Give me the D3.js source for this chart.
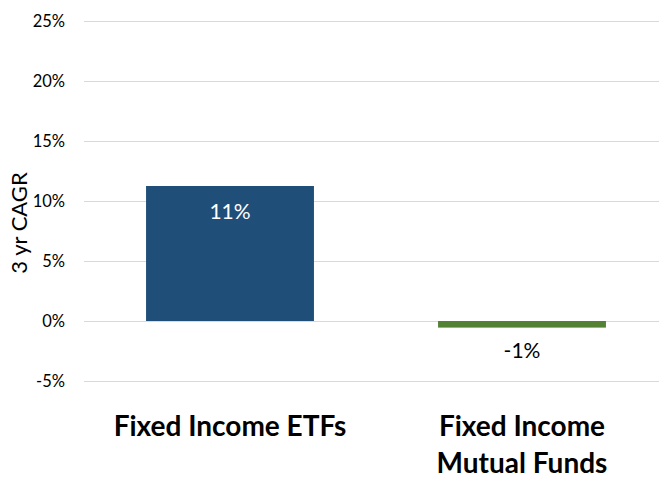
<!DOCTYPE html>
<html>
<head>
<meta charset="utf-8">
<script src="https://cdn.jsdelivr.net/npm/d3@7"></script>
<style>
  body { margin: 0; background: #fff; }
  svg { display: block; font-family: Lato, "Open Sans", sans-serif; }
</style>
</head>
<body>
<div class="chart"></div>
<script>
const categories = ["Fixed Income ETFs", "Fixed Income Mutual Funds"];
const categoryLines = [["Fixed Income ETFs"], ["Fixed Income", "Mutual Funds"]];
const cagrValues = [11.25, -0.55];
const barLabels = ["11%", "-1%"];
const yTicks = [-5, 0, 5, 10, 15, 20, 25];
const barColors = ["#1f4e79", "#548235"];

let width = 659,
  height = 478;

let xScale = d3
  .scaleBand()
  .domain(categories)
  .range([84, 668])
  .paddingInner(0.425)
  .paddingOuter(0.2125);

let yScale = d3.scaleLinear().domain([-5, 25]).range([381, 21]);

let svg = d3
  .select(".chart")
  .append("svg")
  .attr("width", width)
  .attr("height", height);

// gridlines
svg
  .append("g")
  .selectAll("line")
  .data(yTicks)
  .enter()
  .append("line")
  .attr("x1", 84)
  .attr("x2", 668)
  .attr("y1", (d) => Math.round(yScale(d)) + 0.5)
  .attr("y2", (d) => Math.round(yScale(d)) + 0.5)
  .attr("stroke", "#d9d9d9")
  .attr("stroke-width", 1);

let yAxis = d3
  .axisLeft(yScale)
  .tickValues(yTicks)
  .tickFormat((d) => d + "%")
  .tickSize(0)
  .tickPadding(0);

let yAxisG = svg
  .append("g")
  .attr("transform", "translate(65,0)")
  .call(yAxis);
yAxisG.select(".domain").remove();
yAxisG
  .selectAll("text")
  .attr("font-family", "Lato, 'Open Sans', sans-serif")
  .attr("font-size", 16.5)
  .attr("fill", "#000");

svg
  .append("text")
  .attr("transform", "translate(27,223) rotate(-90)")
  .attr("text-anchor", "middle")
  .style("font-size", "22px")
  .attr("fill", "#000")
  .text("3 yr CAGR");

// bars
svg
  .append("g")
  .selectAll("rect")
  .data(cagrValues)
  .enter()
  .append("rect")
  .attr("x", (d, i) => xScale(categories[i]))
  .attr("width", xScale.bandwidth())
  .attr("y", (d) => yScale(Math.max(0, d)))
  .attr("height", (d) => Math.abs(yScale(d) - yScale(0)))
  .attr("fill", (d, i) => barColors[i]);

// value labels
svg
  .append("g")
  .selectAll("text")
  .data(cagrValues)
  .enter()
  .append("text")
  .attr("x", (d, i) => xScale(categories[i]) + xScale.bandwidth() / 2)
  .attr("y", (d) => (d >= 0 ? yScale(d) + 33 : yScale(d) + 30))
  .attr("text-anchor", "middle")
  .style("font-size", "21px")
  .attr("fill", (d) => (d >= 0 ? "#fff" : "#000"))
  .text((d, i) => barLabels[i]);

// category labels
let catG = svg
  .append("g")
  .selectAll("text")
  .data(categories)
  .enter()
  .append("text")
  .attr("text-anchor", "middle")
  .attr("x", (d) => xScale(d) + xScale.bandwidth() / 2)
  .attr("y", 436)
  .style("font-size", "28px")
  .style("font-weight", "bold")
  .attr("fill", "#000");

catG
  .selectAll("tspan")
  .data((d, i) => categoryLines[i])
  .enter()
  .append("tspan")
  .attr("x", function () {
    return this.parentNode.getAttribute("x");
  })
  .attr("dy", (d, i) => (i === 0 ? 0 : 37))
  .text((d) => d);
</script>
</body>
</html>
